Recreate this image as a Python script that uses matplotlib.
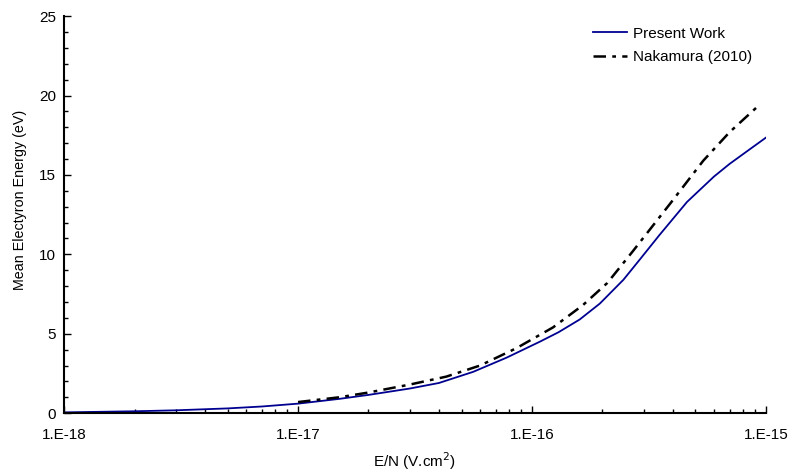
import math
import matplotlib
matplotlib.use('Agg')
import matplotlib.pyplot as plt
from matplotlib.ticker import FixedLocator, MultipleLocator, FuncFormatter, NullFormatter

plt.rcParams['font.family'] = ['Liberation Sans', 'DejaVu Sans']

# Mean electron energy vs reduced field E/N
en_present = [1e-18, 2e-18, 3e-18, 5e-18, 7e-18, 1e-17, 1.5e-17, 2e-17, 3e-17,
              4e-17, 5.6e-17, 7.8e-17, 1.08e-16, 1.3e-16, 1.6e-16, 1.95e-16, 2.46e-16,
              2.9e-16, 3.5e-16, 4.6e-16, 6e-16, 7e-16, 8.5e-16, 1e-15]
energy_present = [0.05, 0.12, 0.18, 0.3, 0.42, 0.6, 0.9, 1.15, 1.55,
                  1.9, 2.6, 3.5, 4.5, 5.1, 5.9, 6.9, 8.4,
                  9.7, 11.2, 13.3, 14.9, 15.7, 16.6, 17.35]

en_nakamura = [1e-17, 1.5e-17, 2e-17, 3e-17, 4.3e-17, 6e-17, 8.6e-17, 1e-16,
               1.23e-16, 1.65e-16, 2.1e-16, 2.7e-16, 3.9e-16, 5.4e-16, 7e-16, 9.2e-16]
energy_nakamura = [0.7, 1.0, 1.3, 1.8, 2.3, 3.0, 4.1, 4.65,
                   5.4, 6.8, 8.2, 10.2, 13.2, 15.9, 17.7, 19.3]

decades = [1e-18, 1e-17, 1e-16, 1e-15]

fig = plt.figure(figsize=(7.92, 4.76), dpi=100)
ax = fig.add_axes([0.081, 0.132, 0.886, 0.834])

ax.plot(en_present, energy_present, color='#000090', lw=1.3, label='Present Work')
ax.plot(en_nakamura, energy_nakamura, color='black', lw=1.8,
        dashes=[5, 2.5, 1.5, 2.5], label='Nakamura (2010)')

ax.set_xscale('log')
ax.set_xlim(decades[0], decades[-1])
ax.set_ylim(0, 25)

minor = [m * d for d in decades[:-1] for m in range(2, 10)]
ax.xaxis.set_major_locator(FixedLocator(decades))
ax.xaxis.set_minor_locator(FixedLocator(minor))
ax.xaxis.set_minor_formatter(NullFormatter())
ax.xaxis.set_major_formatter(FuncFormatter(lambda v, p: '1.E%d' % round(math.log10(v))))
ax.yaxis.set_major_locator(MultipleLocator(5))
ax.yaxis.set_minor_locator(MultipleLocator(1))

ax.tick_params(which='both', direction='in', labelsize=11, width=1)
ax.tick_params(which='major', length=5, pad=6)
ax.tick_params(which='minor', length=3)
ax.tick_params(axis='x', which='major', pad=11)

for side in ['top', 'right']:
    ax.spines[side].set_visible(False)
for side in ['left', 'bottom']:
    ax.spines[side].set_linewidth(1.5)

ax.set_xlabel('E/N (V.cm$^2$)', fontsize=11, labelpad=6)
ax.set_ylabel('Mean Electyron Energy (eV)', fontsize=10.3)
ax.yaxis.set_label_coords(-0.053, 0.537)

ax.legend(loc='upper right', frameon=False, fontsize=11, handlelength=2.2,
          handletextpad=0.4, labelspacing=0.6, bbox_to_anchor=(1.0, 1.008))

fig.savefig('out.png', dpi=100)
